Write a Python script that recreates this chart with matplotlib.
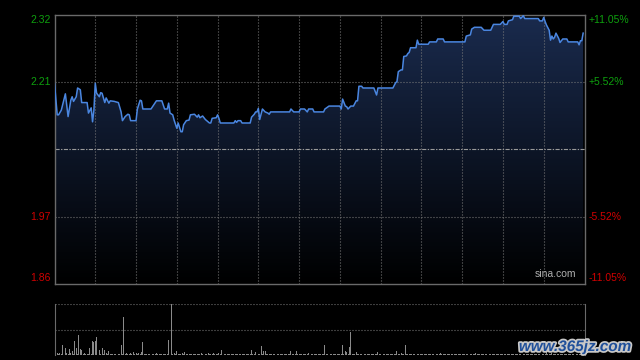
# -*- coding: utf-8 -*-
# intraday chart, sina style (black background, price + volume)

import numpy as np
import matplotlib
matplotlib.use('Agg')
import matplotlib.pyplot as plt
import matplotlib.patheffects as pe
from matplotlib.colors import LinearSegmentedColormap

plt.rcParams['font.family'] = ['Liberation Sans', 'DejaVu Sans']
plt.rcParams['lines.scale_dashes'] = False

prev_close = 2.09
price_labels = ['2.32', '2.21', '1.97', '1.86']
pct_labels = ['+11.05%', '+5.52%', '-5.52%', '-11.05%']

# minute of session (0..390) and price
minutes = [0, 2, 3, 5, 8, 10, 12, 13, 14, 16,
           17, 19, 20, 24, 25, 27, 28, 29, 30, 31,
           33, 34, 35, 37, 38, 40, 41, 44, 47, 49,
           50, 52, 54, 55, 56, 60, 61, 63, 64, 65,
           71, 75, 79, 81, 83, 84, 85, 87, 88, 90,
           91, 93, 94, 95, 97, 99, 100, 103, 105, 106,
           107, 109, 111, 114, 115, 116, 119, 120, 121, 122,
           132, 133, 134, 135, 137, 138, 144, 145, 147, 148,
           149, 150, 151, 153, 155, 157, 158, 159, 173, 174,
           176, 180, 181, 184, 186, 187, 190, 191, 198, 199,
           202, 210, 211, 212, 214, 215, 216, 218, 220, 222,
           223, 224, 226, 227, 235, 237, 238, 249, 251, 252,
           253, 255, 256, 257, 259, 260, 261, 262, 266, 267,
           268, 275, 276, 281, 282, 286, 287, 302, 303, 306,
           307, 309, 314, 316, 321, 323, 328, 330, 331, 333,
           334, 337, 338, 342, 343, 345, 346, 356, 357, 359,
           360, 361, 362, 364, 365, 366, 367, 368, 369, 371,
           372, 374, 377, 378, 385, 386, 387, 388, 389]
prices = [2.203, 2.149, 2.149, 2.157, 2.185, 2.146, 2.174, 2.180, 2.172, 2.180,
          2.195, 2.192, 2.170, 2.170, 2.152, 2.161, 2.137, 2.157, 2.203, 2.186,
          2.180, 2.187, 2.186, 2.170, 2.178, 2.169, 2.173, 2.172, 2.170, 2.154,
          2.139, 2.146, 2.150, 2.149, 2.139, 2.139, 2.159, 2.174, 2.173, 2.159,
          2.159, 2.173, 2.173, 2.159, 2.159, 2.169, 2.152, 2.149, 2.140, 2.126,
          2.135, 2.120, 2.120, 2.132, 2.139, 2.140, 2.149, 2.150, 2.145, 2.149,
          2.144, 2.147, 2.141, 2.135, 2.135, 2.143, 2.144, 2.149, 2.143, 2.135,
          2.135, 2.139, 2.136, 2.139, 2.139, 2.135, 2.135, 2.145, 2.150, 2.154,
          2.154, 2.160, 2.141, 2.159, 2.154, 2.152, 2.150, 2.154, 2.154, 2.159,
          2.154, 2.154, 2.159, 2.159, 2.154, 2.159, 2.159, 2.154, 2.154, 2.159,
          2.164, 2.164, 2.159, 2.176, 2.164, 2.163, 2.159, 2.164, 2.164, 2.173,
          2.173, 2.198, 2.198, 2.195, 2.195, 2.183, 2.195, 2.195, 2.204, 2.206,
          2.223, 2.226, 2.226, 2.249, 2.250, 2.254, 2.256, 2.264, 2.264, 2.277,
          2.270, 2.270, 2.274, 2.274, 2.279, 2.279, 2.274, 2.274, 2.284, 2.286,
          2.296, 2.299, 2.299, 2.294, 2.294, 2.304, 2.304, 2.309, 2.304, 2.304,
          2.310, 2.312, 2.318, 2.318, 2.314, 2.319, 2.314, 2.314, 2.310, 2.310,
          2.316, 2.309, 2.303, 2.294, 2.277, 2.284, 2.279, 2.282, 2.289, 2.280,
          2.273, 2.279, 2.279, 2.274, 2.274, 2.269, 2.276, 2.276, 2.289]

# volume per minute, one row per half hour
volumes = [5, 1, 2, 1, 2, 1, 10, 1, 7, 2, 1, 6, 2, 4, 1, 14, 7, 1, 20, 6, 5, 1, 2, 1, 1, 1, 7, 1, 14, 13,
           14, 18, 9, 5, 1, 7, 1, 5, 2, 1, 4, 1, 1, 1, 1, 1, 1, 1, 1, 10, 1, 37, 1, 2, 1, 1, 2, 1, 3, 1,
           2, 1, 2, 1, 3, 13, 1, 1, 1, 1, 1, 1, 1, 1, 1, 2, 1, 1, 1, 1, 1, 1, 1, 1, 15, 1, 50, 1, 2, 1,
           4, 1, 1, 1, 2, 1, 3, 1, 1, 1, 1, 1, 1, 1, 1, 1, 1, 1, 2, 1, 1, 1, 1, 2, 1, 1, 1, 2, 1, 1,
           1, 2, 1, 5, 1, 1, 1, 1, 1, 1, 1, 1, 1, 1, 1, 1, 1, 1, 1, 1, 1, 1, 1, 1, 1, 5, 1, 1, 3, 1,
           1, 1, 9, 1, 4, 4, 1, 1, 1, 1, 1, 1, 1, 1, 1, 1, 1, 1, 1, 1, 1, 1, 1, 1, 4, 1, 1, 1, 4, 1,
           1, 1, 1, 1, 1, 1, 1, 2, 1, 1, 1, 1, 1, 1, 1, 1, 1, 1, 1, 10, 1, 1, 1, 1, 1, 1, 1, 1, 1, 1,
           1, 1, 10, 1, 4, 3, 1, 8, 23, 1, 1, 1, 3, 1, 1, 1, 1, 5, 1, 1, 1, 1, 1, 1, 1, 1, 1, 1, 3, 1,
           1, 1, 1, 1, 1, 1, 1, 1, 1, 1, 1, 1, 4, 1, 1, 2, 1, 1, 10, 1, 1, 1, 1, 1, 1, 1, 1, 1, 1, 1,
           1, 1, 1, 1, 1, 1, 1, 1, 1, 1, 1, 1, 1, 1, 2, 1, 1, 1, 1, 1, 1, 1, 1, 1, 1, 1, 1, 1, 1, 1,
           1, 1, 1, 1, 1, 1, 1, 1, 1, 1, 2, 1, 1, 1, 1, 1, 1, 1, 1, 1, 1, 1, 1, 1, 1, 1, 1, 1, 1, 1,
           1, 1, 1, 1, 1, 1, 1, 1, 1, 1, 1, 1, 1, 1, 1, 1, 1, 1, 1, 1, 1, 1, 1, 1, 1, 1, 1, 1, 1, 1,
           1, 1, 3, 1, 1, 1, 2, 1, 1, 1, 1, 1, 1, 1, 1, 1, 1, 1, 1, 1, 1, 1, 1, 1, 1, 1, 1, 1, 1, 1]

W, H = 640, 360
lo, hi = prev_close * (1 - 0.1105), prev_close * (1 + 0.1105)
green, red, grid_c, spine_c = '#0ea00e', '#d00000', '#7a7a7a', '#6a6a6a'
dots = (0, (0.72, 1.44))

fig = plt.figure(figsize=(6.4, 3.6), dpi=100, facecolor='black')

# price panel
ax = fig.add_axes([54.5 / W, 1 - 284 / H, 530 / W, 269.5 / H])
ax.set_facecolor('black')
ax.set_xlim(0, 390)
ax.set_ylim(lo, hi)

# gradient fill under the line
cmap = LinearSegmentedColormap.from_list('fill', ['#000000', '#1a2b4e'])
grad = np.linspace(1, 0, 256).reshape(-1, 1)
im = ax.imshow(grad, extent=[0, 390, lo, hi], aspect='auto', cmap=cmap,
               origin='upper', zorder=1)
poly = ax.fill_between(minutes, prices, lo, color='none', lw=0)
im.set_clip_path(poly.get_paths()[0], transform=ax.transData)

for m in range(30, 390, 30):
    ax.axvline(m, color=grid_c, lw=0.8, ls=dots, zorder=2)
for p in (prev_close * 1.0552, prev_close * 0.9448):
    ax.axhline(p, color=grid_c, lw=0.8, ls=dots, zorder=2)
ax.axhline(prev_close, color='#9a9a9a', lw=0.8, ls=(0, (3, 1, 1, 1)), zorder=2)

ax.plot(minutes, prices, color='#4a86e0', lw=1.1, zorder=3)

for s in ax.spines.values():
    s.set_color(spine_c)
    s.set_linewidth(1)
ax.set_xticks([])
ax.set_yticks([])

ax.text(0.985, 0.02, 'sina.com', transform=ax.transAxes, ha='right', va='bottom',
        color='#b0b0b0', fontsize=7.5)

# axis labels (left prices, right percents)
label_y = [20, 82, 217, 278]
label_c = [green, green, red, red]
for txt, pct, y, c in zip(price_labels, pct_labels, label_y, label_c):
    fig.text(51 / W, 1 - y / H, txt, ha='right', va='center', color=c, fontsize=7.5)
    fig.text(589 / W, 1 - y / H, pct, ha='left', va='center', color=c, fontsize=7.5)

# volume panel
axv = fig.add_axes([54.5 / W, 1 - 355 / H, 530 / W, 51 / H])
axv.set_facecolor('black')
axv.bar(np.arange(len(volumes)), volumes, width=0.7, color='#8a8a8a', lw=0)
axv.set_xlim(0, 390)
axv.set_ylim(0, max(volumes))
axv.axhline(max(volumes) / 2, color=grid_c, lw=0.8, ls=dots)
axv.axhline(max(volumes), color=grid_c, lw=0.8, ls=dots)
axv.spines['top'].set_visible(False)
axv.spines['bottom'].set_visible(False)
for side in ('left', 'right'):
    axv.spines[side].set_color(spine_c)
axv.set_xticks([])
axv.set_yticks([])

fig.text(575 / W, 1 - 347 / H, 'www.365jz.com', ha='center', va='center',
         color='#1f4f9a', fontsize=11, fontweight='bold', style='italic',
         path_effects=[pe.withStroke(linewidth=2.5, foreground='#c8c8c8')])

fig.savefig('out.png', dpi=100, facecolor='black')
